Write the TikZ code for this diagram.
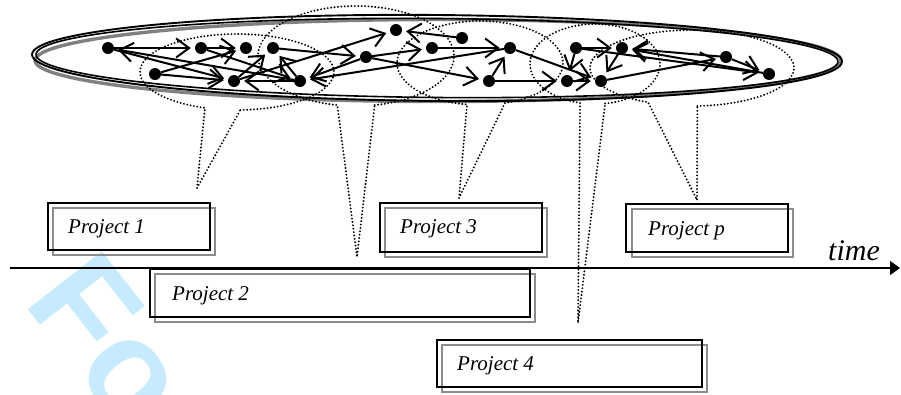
\documentclass[tikz,border=0pt]{standalone}
\usepackage{fontspec}
\setmainfont{Liberation Serif}
\newfontfamily\wmfont{Liberation Sans}
\usetikzlibrary{arrows.meta}
\definecolor{wmblue}{RGB}{198,235,255}
\begin{document}
\begin{tikzpicture}[x=1pt,y=-1pt,
  dot/.style={circle,fill=black,inner sep=0pt,minimum size=12pt},
  edge/.style={line width=2pt,-{Straight Barb[length=13pt,width=19pt,line width=2pt]},shorten >=4pt},
  dots/.style={line width=2.1pt,dash pattern=on 0pt off 3.4pt,line cap=round},
  mainbox/.style={line width=2.4pt,draw=black},
  shadowbox/.style={line width=2.4pt,draw=black!45},
  ptext/.style={font=\itshape\fontsize{21}{24}\selectfont,anchor=base west,inner sep=0pt}]
\useasboundingbox (0,0) rectangle (901,394);
\clip (0,0) rectangle (901,394);
% watermark
\node[anchor=base west,rotate=-52,inner sep=0pt,text=wmblue,font=\wmfont\bfseries\fontsize{137}{140}\selectfont] (wm) at (22,302) {For Peer Review};
% big ellipse
\draw[line width=3.4pt,black!50] (438,60.5) ellipse [x radius=403pt,y radius=41pt];
\draw[line width=1.9pt,rotate around={-0.5:(437,58)}] (437,58) ellipse [x radius=405pt,y radius=43pt];
\draw[line width=1.6pt,rotate around={-0.5:(437,58)}] (437,58) ellipse [x radius=401pt,y radius=39.5pt];
% callout tips
\coordinate (t1) at (197,188);
\coordinate (t2) at (357,257);
\coordinate (t3) at (459,198);
\coordinate (t4) at (578,323);
\coordinate (tp) at (697,200);
% callouts
\draw[dots] (237,72) ++(272:97pt and 38pt) arc[start angle=272,end angle=610.7,x radius=97pt,y radius=38pt] -- (t1) -- cycle;
\draw[dots] (356,56) ++(281:98pt and 50pt) arc[start angle=281,end angle=619,x radius=98pt,y radius=50pt] -- (t2) -- cycle;
\draw[dots] (480,63) ++(287.5:83pt and 42pt) arc[start angle=287.5,end angle=621,x radius=83pt,y radius=42pt] -- (t3) -- cycle;
\draw[dots] (595,64) ++(279:65pt and 40pt) arc[start angle=279,end angle=616.7,x radius=65pt,y radius=40pt] -- (t4) -- cycle;
\draw[dots] (692,68) ++(273:102pt and 38pt) arc[start angle=273,end angle=604.5,x radius=102pt,y radius=38pt] -- (tp) -- cycle;
% graph nodes
\node[dot] (n1) at (108,48) {};
\node[dot] (n2) at (201,48) {};
\node[dot] (n3) at (246,48) {};
\node[dot] (n4) at (273,48) {};
\node[dot] (n5) at (155,74) {};
\node[dot] (n6) at (234,81) {};
\node[dot] (n7) at (300,81) {};
\node[dot] (n8) at (366,57) {};
\node[dot] (n9) at (396,30) {};
\node[dot] (n10) at (432,48) {};
\node[dot] (n11) at (462,38) {};
\node[dot] (n12) at (510,48) {};
\node[dot] (n13) at (489,81) {};
\node[dot] (n14) at (576,48) {};
\node[dot] (n15) at (622,48) {};
\node[dot] (n16) at (567,81) {};
\node[dot] (n17) at (601,81) {};
\node[dot] (n18) at (726,57) {};
\node[dot] (n19) at (769,74) {};
% edges
\draw[edge] (n1) -- (n2);
\draw[edge] (n2) -- (n3);
\draw[edge] (n5) -- (n3);
\draw[edge] (n1) -- (n6);
\draw[edge] (n5) -- (n6);
\draw[edge] (n7) -- (n1);
\draw[edge] (n2) -- (n7);
\draw[edge] (n6) -- (n4);
\draw[edge] (n7) -- (n4);
\draw[edge] (n7) -- (n6);
\draw[edge] (n6) -- (n9);
\draw[edge] (n4) -- (n8);
\draw[edge] (n8) -- (n7);
\draw[edge] (n8) -- (n10);
\draw[edge] (n8) -- (n13);
\draw[edge] (n11) -- (n9);
\draw[edge] (n12) -- (n7);
\draw[edge] (n10) -- (n12);
\draw[edge] (n13) -- (n12);
\draw[edge] (n13) -- (n16);
\draw[edge] (n12) -- (n17);
\draw[edge] (n16) -- (n17);
\draw[edge] (n14) -- (n15);
\draw[edge] (n14) -- (n16);
\draw[edge] (n15) -- (n17);
\draw[edge] (n17) -- (n18);
\draw[edge] (n18) -- (n15);
\draw[edge] (n19) -- (n15);
\draw[edge] (n18) -- (n19);
\draw[edge] (n14) -- (n19);
% time axis
\coordinate (ax0) at (10,268);
\coordinate (ax1) at (900,268);
\draw[line width=1.7pt,-{Triangle[length=10pt,width=14pt]}] (ax0) -- (ax1);
\node[anchor=base west,inner sep=0pt,font=\itshape\fontsize{30}{34}\selectfont] (time) at (828,260) {time};
% project boxes
\draw[shadowbox] (53,208) rectangle (215,255);
\draw[mainbox] (48,203) rectangle (210,250);
\node[ptext] (p1) at (68,233) {Project 1};
\draw[shadowbox] (155,274) rectangle (535,322);
\draw[mainbox] (150,269) rectangle (530,317);
\node[ptext] (p2) at (172,300) {Project 2};
\draw[shadowbox] (385,208) rectangle (547,257);
\draw[mainbox] (380,203) rectangle (542,252);
\node[ptext] (p3) at (400,233) {Project 3};
\draw[shadowbox] (632,209) rectangle (793,257);
\draw[mainbox] (626,204) rectangle (788,252);
\node[ptext] (pp) at (648,235) {Project p};
\draw[shadowbox] (442,345) rectangle (707,392);
\draw[mainbox] (437,340) rectangle (702,387);
\node[ptext] (p4) at (457,370) {Project 4};
\end{tikzpicture}
\end{document}
